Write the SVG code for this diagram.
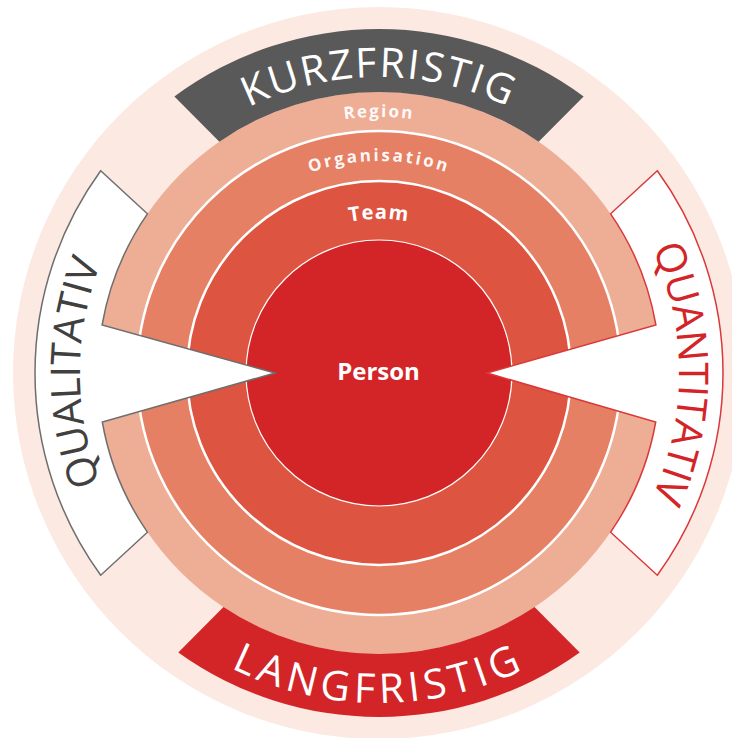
<svg xmlns="http://www.w3.org/2000/svg" width="732" height="738" viewBox="0 0 732 738">
<style>
.big{font-family:"Open Sans","Liberation Sans",sans-serif;font-weight:400;font-size:41px}
.lbl{font-family:"Open Sans","Liberation Sans",sans-serif;font-weight:700;fill:#ffffff}
.ring{stroke:#ffffff;stroke-width:2.5}
</style>
<defs>
<path id="pTop" d="M 122.7 225 A 296 296 0 0 1 635.3 225"/>
<path id="pBottom" d="M 93.2 538 A 330 330 0 0 0 664.8 538"/>
<path id="pLeft" d="M 229.5 632 A 299 299 0 0 1 229.5 114"/>
<path id="pRight" d="M 528.5 112.3 A 301 301 0 0 1 528.5 633.7"/>
<path id="pRegion" d="M 157.3 245 A 256 256 0 0 1 600.7 245"/>
<path id="pOrg" d="M 195.4 267 A 212 212 0 0 1 562.6 267"/>
<path id="pTeam" d="M 245.6 296 A 154 154 0 0 1 512.4 296"/>
</defs>
<circle id="background" cx="379" cy="373" r="366" fill="#fbe9e2"/>
<g id="region">
<circle cx="379" cy="373" r="281" fill="#eeae96"/>
</g>
<g id="organisation">
<circle class="ring" cx="379" cy="373" r="242" fill="#e68064"/>
</g>
<g id="team">
<circle class="ring" cx="379" cy="373" r="192" fill="#dd5440"/>
</g>
<g id="person">
<circle cx="379" cy="373" r="133" fill="#d32428" stroke="#ffffff" stroke-width="1.2"/>
<text class="lbl" x="378.5" y="380" font-size="24" text-anchor="middle">Person</text>
</g>
<g id="kurzfristig">
<path d="M 174.4 96.5 A 344 344 0 0 1 583.6 96.5 L 538.6 141.7 A 281 281 0 0 0 219.4 141.7 Z" fill="#595959"/>
<text class="big" fill="#ffffff" letter-spacing="2"><textPath href="#pTop" startOffset="50%" text-anchor="middle">KURZFRISTIG</textPath></text>
</g>
<g id="langfristig">
<path d="M 178.3 652.4 A 344 344 0 0 0 579.7 652.4 L 534.5 607 A 281 281 0 0 1 223.5 607 Z" fill="#d32428"/>
<text class="big" fill="#ffffff" letter-spacing="5"><textPath href="#pBottom" startOffset="50%" text-anchor="middle">LANGFRISTIG</textPath></text>
</g>
<g id="qualitativ">
<path d="M 100.7 170.8 L 147.4 213.8 A 281 281 0 0 0 102.1 325 L 275 373 L 102.3 422 A 281 281 0 0 0 147.4 532.2 L 100.7 575.2 A 344 344 0 0 1 100.7 170.8 Z" fill="#ffffff" stroke="#6e6e6e" stroke-width="1.5" stroke-linejoin="miter"/>
<text class="big" fill="#404040" letter-spacing="-0.3"><textPath href="#pLeft" startOffset="50%" text-anchor="middle">QUALITATIV</textPath></text>
</g>
<g id="quantitativ">
<path d="M 657.3 170.8 L 610.6 213.8 A 281 281 0 0 1 655.9 325 L 487 373 L 655.7 422 A 281 281 0 0 1 610.6 532.2 L 657.3 575.2 A 344 344 0 0 0 657.3 170.8 Z" fill="#ffffff" stroke="#d9393b" stroke-width="1.5" stroke-linejoin="miter"/>
<text class="big" fill="#d32428" letter-spacing="-0.3"><textPath href="#pRight" startOffset="50%" text-anchor="middle">QUANTITATIV</textPath></text>
</g>
<g id="ring-labels">
<text class="lbl" font-size="17" letter-spacing="2" fill-opacity="0.95"><textPath href="#pRegion" startOffset="50%" text-anchor="middle">Region</textPath></text>
<text class="lbl" font-size="17" letter-spacing="2.5" fill-opacity="0.95"><textPath href="#pOrg" startOffset="50%" text-anchor="middle">Organisation</textPath></text>
<text class="lbl" font-size="20" letter-spacing="1"><textPath href="#pTeam" startOffset="50%" text-anchor="middle">Team</textPath></text>
</g>
<g id="connectors"/>
</svg>
